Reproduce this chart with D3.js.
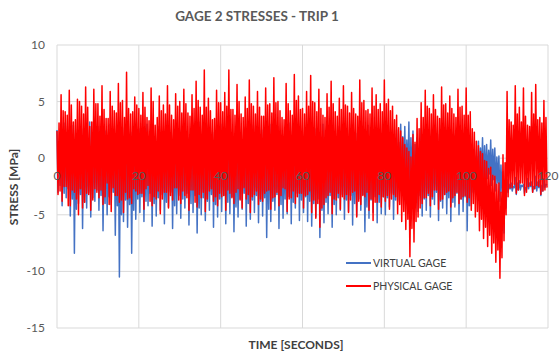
<!DOCTYPE html>
<html>
<head>
<meta charset="utf-8">
<script src="https://cdn.jsdelivr.net/npm/d3@7"></script>
<style>
  body { margin: 0; background: #fff; }
  text { font-family: Lato, "Liberation Sans", sans-serif; }
</style>
</head>
<body>
<svg width="560" height="356"></svg>
<script>
// sample spacing of both records, seconds
const sampleStep = 0.25;

// virtual gage stress [MPa], one value every 0.25 s from t = 0 (one row = 10 s)
const virtualGage = [
  2.5,-3.0,1.2,-2.4, 1.8,-4.2,0.9,-3.1, 3.1,-3.5,1.5,-2.7, 2.0,-5.1,0.8,-3.6, 2.9,-8.4,1.3,-4.5, 1.5,-4.0,0.6,-3.2, 2.6,-6.2,1.4,-3.9, 1.9,-4.4,1.0,-3.0, 3.2,-5.2,1.6,-3.5, 2.2,-3.8,1.1,-2.8,
  2.8,-4.6,1.3,-3.3, 1.6,-6.4,0.7,-4.0, 2.4,-5.0,1.2,-3.4, 3.0,-4.1,1.5,-3.0, 2.1,-6.8,0.9,-4.2, 1.4,-10.5,0.5,-5.0, 2.7,-5.6,1.3,-3.7, 1.8,-6.1,1.0,-4.1, 2.3,-8.4,0.8,-4.6, 3.1,-5.4,1.4,-3.6,
  2.6,-4.8,1.1,-3.4, 1.9,-5.6,0.8,-3.8, 3.0,-4.2,1.4,-3.1, 2.2,-6.0,1.0,-4.0, 1.7,-5.1,0.6,-3.5, 2.8,-4.6,1.3,-3.2, 2.0,-5.8,0.9,-3.9, 3.3,-4.3,1.5,-3.0, 1.6,-6.2,0.7,-4.2, 2.5,-4.9,1.2,-3.3,
  2.4,-5.3,1.1,-3.6, 3.0,-4.4,1.4,-3.1, 1.8,-5.9,0.8,-4.0, 2.7,-4.8,1.2,-3.3, 2.1,-6.6,0.9,-4.4, 3.2,-5.0,1.5,-3.5, 1.9,-5.5,0.7,-3.8, 2.9,-4.6,1.3,-3.2, 2.3,-6.1,1.0,-4.1, 1.7,-5.2,0.6,-3.6,
  3.0,-4.7,1.4,-3.3, 2.2,-5.8,1.0,-3.9, 2.6,-4.9,1.2,-3.4, 1.8,-6.5,0.8,-4.3, 3.1,-5.2,1.5,-3.6, 2.0,-4.5,0.9,-3.1, 2.7,-6.0,1.3,-4.0, 1.6,-5.4,0.6,-3.7, 2.9,-4.8,1.4,-3.3, 2.3,-5.7,1.1,-3.8,
  2.5,-5.1,1.2,-3.5, 1.9,-7.0,0.8,-4.5, 3.0,-5.6,1.4,-3.8, 2.2,-4.6,1.0,-3.2, 2.8,-6.2,1.3,-4.1, 1.7,-5.3,0.7,-3.6, 2.4,-4.9,1.1,-3.4, 3.1,-5.8,1.5,-3.9, 2.0,-4.4,0.9,-3.1, 2.6,-5.5,1.2,-3.7,
  2.1,-4.8,1.0,-3.4, 2.9,-5.6,1.3,-3.8, 1.8,-6.0,0.8,-4.0, 2.6,-5.2,1.2,-3.6, 2.3,-7.0,1.0,-4.6, 3.0,-5.7,1.4,-3.9, 1.9,-4.9,0.9,-3.3, 2.7,-6.1,1.3,-4.1, 2.2,-5.0,1.0,-3.5, 2.8,-4.6,1.3,-3.2,
  2.4,-5.4,1.1,-3.7, 1.9,-4.7,0.8,-3.3, 3.0,-5.9,1.4,-4.0, 2.2,-5.1,1.0,-3.6, 2.6,-4.6,1.2,-3.2, 1.8,-6.5,0.7,-4.3, 2.9,-5.3,1.3,-3.7, 2.1,-4.8,0.9,-3.4, 2.7,-5.7,1.2,-3.9, 2.3,-4.9,1.0,-3.4,
  2.2,-5.0,1.0,-3.5, 2.8,-4.3,1.3,-3.1, 1.9,-5.4,0.9,-3.7, 2.5,-3.8,1.4,-2.8, 3.0,-3.2,1.9,-2.2, 2.8,-2.5,1.6,-1.8, 3.2,-3.6,1.8,-2.4, 2.4,-4.0,1.2,-2.9, 1.8,-4.7,0.8,-3.3, 2.6,-5.1,1.1,-3.6,
  2.3,-4.6,1.0,-3.3, 1.9,-5.2,0.8,-3.6, 2.7,-4.1,1.3,-3.0, 2.1,-5.5,0.9,-3.8, 2.9,-4.4,1.4,-3.2, 1.6,-4.9,0.7,-3.5, 2.4,-5.6,1.1,-3.9, 2.0,-4.3,0.9,-3.1, 2.8,-5.0,1.2,-3.6, 2.2,-4.7,1.0,-3.4,
  2.5,-6.4,1.0,-4.2, 1.4,-4.2,0.5,-3.0, 0.8,-3.1,0.2,-2.4, 1.5,-2.2,0.9,-1.6, 1.8,-2.6,1.1,-1.9, 1.2,-1.8,0.7,-1.4, 1.6,-2.4,0.8,-1.9, 0.9,-2.9,0.1,-2.2, 0.2,-3.8,-0.6,-3.0, -1.2,-6.6,-2.0,-4.4,
  -1.9,-3.0,-2.3,-2.7, -2.2,-2.9,-2.5,-2.6, -1.7,-3.2,-2.2,-2.8, -2.0,-2.8,-2.4,-2.5, -2.3,-3.1,-2.6,-2.8, -1.8,-2.7,-2.2,-2.5, -2.1,-3.0,-2.5,-2.7, -1.6,-2.9,-2.1,-2.6, -2.0,-3.3,-2.4,-2.9, -1.8,-2.6,-2.3,-2.4
];

// physical gage stress [MPa], same time base
const physicalGage = [
  2.4,-3.2,3.1,-2.9, 5.6,-3.8,4.2,-2.5, 4.1,-2.5,3.8,-4.2, 6.0,-4.2,4.7,-2.8, 3.2,-3.0,3.4,-3.6, 5.2,-5.0,5.0,-2.7, 4.6,-4.4,3.9,-3.9, 6.3,-3.1,4.5,-3.2, 2.8,-4.6,3.2,-3.7, 6.1,-2.7,4.8,-3.0,
  4.8,-3.5,3.7,-2.8, 6.4,-4.1,4.3,-3.4, 3.5,-2.2,3.5,-4.1, 5.9,-4.7,4.6,-2.6, 4.2,-3.3,4.0,-3.3, 6.6,-3.9,4.9,-3.7, 5.1,-4.8,3.6,-3.0, 7.6,-3.6,4.4,-3.5, 3.9,-4.0,4.1,-2.7, 5.4,-2.9,4.7,-3.2,
  4.4,-3.1,3.8,-3.1, 5.8,-4.5,4.5,-2.7, 3.6,-2.4,3.3,-3.8, 6.2,-4.2,5.0,-3.4, 2.9,-3.6,3.6,-2.9, 5.5,-4.9,4.2,-3.6, 4.7,-3.0,3.9,-3.0, 6.4,-4.4,4.7,-3.3, 3.8,-3.7,3.4,-2.6, 5.7,-2.6,4.6,-3.7,
  5.0,-4.0,4.0,-2.9, 6.1,-3.3,4.8,-3.5, 4.0,-4.6,3.7,-2.8, 5.6,-2.8,4.4,-3.9, 6.8,-4.3,5.1,-3.2, 4.5,-3.5,3.8,-3.0, 7.8,-4.7,4.5,-3.6, 5.3,-2.9,4.2,-2.7, 3.4,-3.8,3.5,-3.4, 6.0,-4.2,4.9,-3.1,
  4.9,-3.4,4.1,-3.3, 5.8,-4.6,4.6,-2.8, 7.8,-3.1,4.3,-3.5, 4.3,-4.0,3.8,-3.0, 6.5,-2.7,5.0,-3.7, 3.9,-4.4,3.6,-2.6, 5.4,-3.6,4.4,-3.2, 6.9,-4.8,4.8,-3.4, 4.6,-3.2,3.9,-2.9, 5.9,-4.1,4.5,-3.6,
  3.7,-3.8,3.7,-3.1, 6.2,-2.9,4.7,-2.8, 4.8,-4.5,4.0,-3.5, 7.1,-3.4,4.9,-3.0, 5.0,-4.2,4.2,-3.3, 3.6,-2.6,3.4,-2.7, 6.6,-4.7,4.8,-3.6, 4.2,-3.5,3.8,-2.9, 7.4,-4.0,5.1,-3.4, 5.5,-3.1,4.3,-3.1,
  4.4,-4.4,3.9,-3.3, 5.9,-3.2,4.6,-2.9, 7.3,-4.8,5.0,-3.7, 4.9,-5.3,4.1,-4.0, 6.1,-6.1,4.4,-4.4, 3.8,-4.1,3.6,-3.5, 5.7,-3.3,4.5,-3.0, 6.8,-4.9,4.8,-3.6, 4.1,-3.7,3.7,-3.1, 5.3,-4.5,4.3,-3.4,
  6.4,-3.6,4.7,-3.2, 4.6,-4.8,4.0,-3.7, 5.8,-3.0,4.4,-2.9, 3.9,-5.2,3.7,-3.8, 6.9,-4.1,4.9,-3.3, 5.1,-3.4,4.2,-3.0, 4.3,-4.6,3.9,-3.6, 6.2,-5.5,4.6,-3.9, 5.6,-3.9,4.3,-3.2, 4.8,-4.3,4.1,-3.4,
  6.9,-3.8,4.8,-3.3, 5.2,-4.5,4.2,-3.6, 4.6,-3.2,3.4,-3.4, 3.8,-4.9,2.7,-4.1, 2.4,-5.6,1.8,-4.7, 1.2,-6.3,0.9,-5.4, 0.6,-8.7,0.1,-6.2, 2.1,-7.4,1.4,-5.6, 3.5,-5.2,2.6,-4.4, 4.9,-4.0,3.6,-3.5,
  6.0,-3.5,4.6,-3.1, 4.4,-4.2,3.9,-3.4, 5.6,-2.8,4.3,-2.8, 3.7,-4.5,3.5,-3.7, 6.3,-3.6,4.7,-3.2, 4.8,-3.0,4.0,-2.9, 5.5,-4.3,4.4,-3.5, 3.9,-3.3,3.6,-3.0, 6.1,-4.0,4.5,-3.6, 4.6,-3.4,3.8,-3.3,
  6.2,-3.9,3.8,-3.5, 4.1,-4.6,2.6,-4.0, 2.3,-5.2,1.5,-4.7, 1.1,-6.4,0.6,-5.4, 0.4,-7.1,-0.2,-6.1, -0.3,-7.8,-0.9,-6.8, -0.8,-8.4,-1.5,-7.5, -1.6,-9.2,-2.3,-8.1, -2.2,-10.6,-3.0,-8.8, 0.3,-7.3,-0.4,-5.0,
  5.9,-3.4,3.4,-2.6, 3.2,-2.6,2.9,-2.3, 6.4,-3.1,3.9,-2.8, 4.5,-2.2,3.2,-2.2, 6.2,-3.3,3.7,-3.0, 2.9,-2.5,2.8,-2.4, 5.8,-3.0,3.9,-2.7, 6.5,-2.4,3.4,-2.5, 3.6,-3.2,3.1,-2.9, 5.1,-2.8,3.6,-2.6
];

const xTicks = [0, 20, 40, 60, 80, 100, 120];
const yTicks = [-15, -10, -5, 0, 5, 10];
const seriesNames = ["VIRTUAL GAGE", "PHYSICAL GAGE"];
const seriesColors = ["#4472C4", "#FF0000"];

const svg = d3.select("svg");
const plotLeft = 57, plotRight = 548, plotTop = 45, plotBottom = 328;

const x = d3.scaleLinear().domain([0, 120]).range([plotLeft, plotRight]);
const y = d3.scaleLinear().domain([-15, 10]).range([plotBottom, plotTop]);

// grid
const grid = svg.append("g");
grid.selectAll("line.h")
  .data(yTicks)
  .enter()
  .append("line")
  .attr("x1", plotLeft).attr("x2", plotRight)
  .attr("y1", d => y(d)).attr("y2", d => y(d))
  .attr("stroke", "#d9d9d9").attr("stroke-width", 1);
grid.selectAll("line.v")
  .data(xTicks)
  .enter()
  .append("line")
  .attr("x1", d => x(d)).attr("x2", d => x(d))
  .attr("y1", plotTop).attr("y2", plotBottom)
  .attr("stroke", "#d9d9d9").attr("stroke-width", 1);

// series
const line = d3.line()
  .x((d, i) => x(i * sampleStep))
  .y(d => y(d));

[virtualGage, physicalGage].forEach(function(values, k){
  svg.append("path")
    .datum(values)
    .attr("d", line)
    .attr("fill", "none")
    .attr("stroke", seriesColors[k])
    .attr("stroke-width", 1.5)
    .attr("stroke-linejoin", "round");
});

// y tick labels
svg.append("g")
  .selectAll("text")
  .data(yTicks)
  .enter()
  .append("text")
  .attr("x", 45)
  .attr("y", d => y(d) + 4)
  .attr("text-anchor", "end")
  .attr("font-size", 12)
  .attr("fill", "#595959")
  .text(d => d);

// x tick labels sit under the zero line
svg.append("g")
  .selectAll("text")
  .data(xTicks)
  .enter()
  .append("text")
  .attr("x", d => x(d))
  .attr("y", y(0) + 22)
  .attr("text-anchor", "middle")
  .attr("font-size", 12)
  .attr("fill", "#595959")
  .text(d => d);

// titles
svg.append("text")
  .attr("x", 257).attr("y", 21)
  .attr("text-anchor", "middle")
  .attr("font-size", 13.5)
  .attr("font-weight", "bold")
  .attr("fill", "#595959")
  .text("GAGE 2 STRESSES - TRIP 1");

svg.append("text")
  .attr("transform", "translate(18," + 187 + ") rotate(-90)")
  .attr("text-anchor", "middle")
  .attr("font-size", 12)
  .attr("font-weight", "bold")
  .attr("fill", "#404040")
  .text("STRESS [MPa]");

svg.append("text")
  .attr("x", 296).attr("y", 349)
  .attr("text-anchor", "middle")
  .attr("font-size", 12)
  .attr("font-weight", "bold")
  .attr("fill", "#404040")
  .text("TIME [SECONDS]");

// legend
const legend = svg.append("g");
seriesNames.forEach(function(name, k){
  const ly = 263 + k * 23;
  legend.append("line")
    .attr("x1", 346).attr("x2", 371)
    .attr("y1", ly).attr("y2", ly)
    .attr("stroke", seriesColors[k])
    .attr("stroke-width", 2);
  legend.append("text")
    .attr("x", 373).attr("y", ly + 4)
    .attr("font-size", 10.5)
    .attr("fill", "#404040")
    .text(name);
});
</script>
</body>
</html>
